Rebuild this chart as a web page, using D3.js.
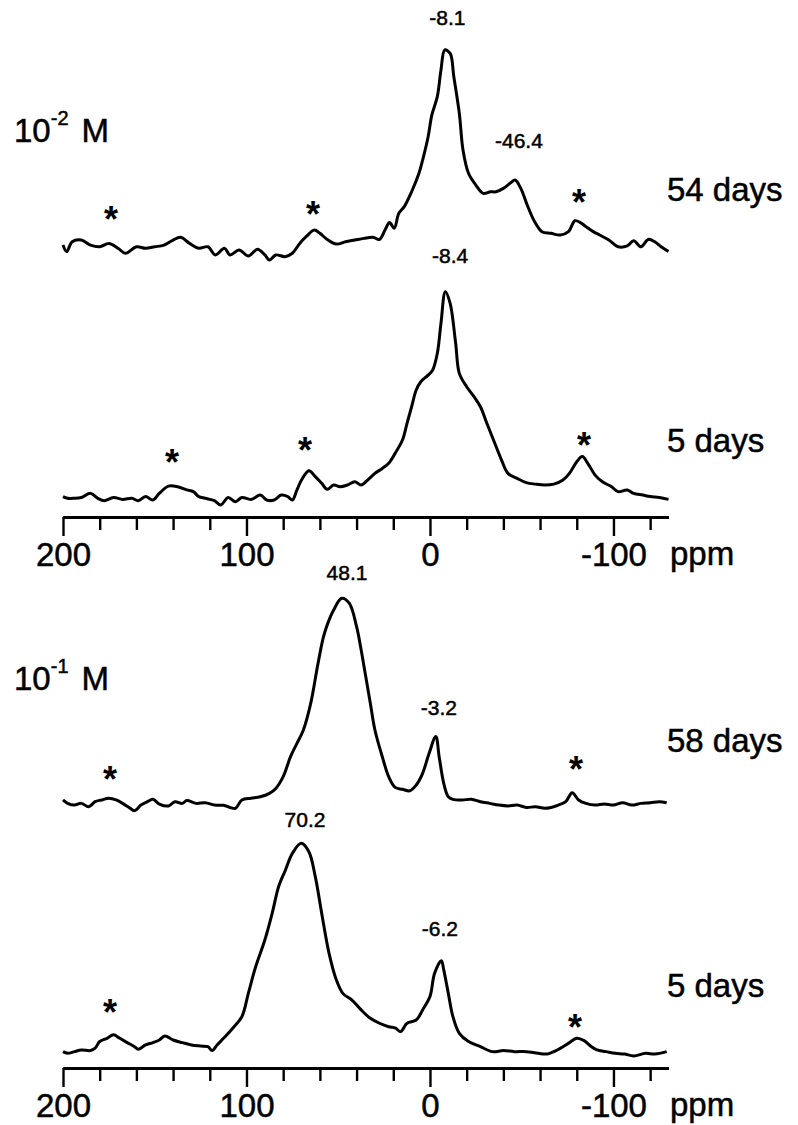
<!DOCTYPE html>
<html>
<head>
<meta charset="utf-8">
<script src="https://cdn.jsdelivr.net/npm/d3@7"></script>
<style>
  body { margin: 0; background: #fff; }
  svg { display: block; }
  text { font-family: "Liberation Sans", Arial, sans-serif; fill: #000; }
</style>
</head>
<body>
<div id="chart"></div>
<script>
/* Spectra: [ppm, relative intensity], main peak = 100 */
var spec54d = [[200,7.1],[198,4.0],[195,8.7],[190,9.5],[185,7.1],[180,6.3],[175,7.9],[170,5.6],[166,3.2],
  [160,6.3],[155,5.6],[150,6.3],[145,7.1],[140,9.5],[136,10.8],[131,7.9],[126,5.6],[121,6.3],[117,2.4],
  [112,5.6],[109,2.4],[104,4.8],[99,1.9],[94,5.1],[90,2.4],[87.5,0],[84,2.4],[79,1.6],[75,3.2],[71,7.9],
  [67.5,11.1],[63,14.3],[60,12.7],[56,9.8],[51,7.6],[46,8.7],[41,9.5],[36,10.3],[31,10.8],[27.5,9.8],
  [24.5,14.3],[22,17.8],[19.5,15.1],[17,22.2],[14,25.4],[10,32.5],[6,41.3],[4,47.6],[1,58.7],[-1,69.0],
  [-4,77.8],[-6,90.5],[-8.1,100],[-11,98.4],[-13,87.3],[-16,69.8],[-18,52.4],[-21,41.3],[-25,35.7],
  [-29,31.7],[-33,32.5],[-36,32.5],[-40,34.1],[-44,36.8],[-46.4,38.1],[-49.5,34.1],[-53,26.2],[-57,18.3],
  [-61,13.5],[-66,12.7],[-71,11.9],[-75.5,13.5],[-79,18.7],[-82,17.8],[-85,15.9],[-89,13.5],[-92.5,11.9],
  [-97.5,9.5],[-102.5,6.3],[-107.5,6.7],[-111,9.2],[-115,6.3],[-119,9.8],[-122.5,8.7],[-126,6.3],[-130,4.0]];

var spec5dLow = [[200,4.7],[197.5,3.9],[194,3.9],[190,4.3],[185,6.2],[181,3.9],[177.5,2.8],[172.5,4.3],
  [167.5,3.4],[162.5,3.9],[159,2.8],[155,4.7],[151,3.1],[147.5,6.2],[142.5,9.6],[137.5,9.3],[132.5,7.8],
  [129,7.0],[126,4.7],[122.5,3.9],[117.5,2.8],[114,0.8],[110,4.3],[106,2.3],[102.5,4.3],[97.5,3.4],
  [92.5,5.4],[89,3.1],[85,3.1],[81,5.4],[77.5,4.7],[75,3.1],[72.5,7.8],[70,12.4],[66,16.7],[62.5,14.0],
  [59,10.9],[56,8.1],[52.5,10.1],[49,9.3],[45,10.1],[41,11.6],[37.5,10.1],[34,12.4],[30,15.5],[26,17.8],
  [22.5,20.2],[19,24.8],[15,31.0],[12.5,38.8],[10,46.5],[7.5,54.3],[5,58.1],[1,61.2],[-1.5,63.6],
  [-4,71.3],[-6,85.3],[-8.4,100],[-11,94.6],[-14,76.0],[-16,62.0],[-20,55.8],[-24,51.2],[-27.5,46.5],
  [-31,38.8],[-35,30.2],[-39,21.7],[-42.5,15.5],[-47.5,13.2],[-52.5,11.2],[-57.5,10.5],[-62.5,10.1],
  [-67.5,10.5],[-72.5,12.4],[-76,15.5],[-80,20.9],[-83,23.3],[-86,20.2],[-90,14.7],[-94,11.6],[-99,9.3],
  [-102.5,7.0],[-107.5,7.8],[-111,6.2],[-116,5.4],[-120,4.7],[-125,4.3],[-130,3.4]];

var spec58d = [[200,5.5],[197.5,3.9],[193.75,3.1],[190,3.9],[186,2.3],[182.5,4.7],[179,5.5],[175,6.3],
  [171,5.5],[167.5,3.9],[164,2.0],[161,0.5],[157.5,3.1],[154,4.7],[151,5.8],[147.5,3.6],[142.5,2.7],
  [139,4.7],[135,3.9],[132.5,5.2],[127.5,3.9],[122.5,4.2],[117.5,3.1],[112.5,3.0],[109,2.0],[106,1.6],
  [102.5,5.5],[97.5,6.3],[92.5,7.0],[87.5,8.6],[84,10.9],[80,16.4],[76,25.8],[72.5,32.0],[69,38.3],
  [65,50.8],[61,69.5],[57.5,83.6],[52.5,94.5],[48.1,100],[44,97.7],[40,86.7],[37.5,75.8],[35,63.3],
  [32.5,50.8],[30,38.3],[26,25.8],[22.5,16.4],[19,11.4],[15,10.5],[11,9.8],[7.5,12.5],[4,18.0],
  [0.5,27.3],[-3.2,35.2],[-5,25.8],[-7.5,13.3],[-10,7.0],[-12.5,5.8],[-17.5,5.5],[-22.5,5.8],[-27.5,4.7],
  [-32.5,3.9],[-37.5,3.1],[-42.5,2.7],[-47.5,3.1],[-52.5,2.0],[-57.5,2.3],[-62.5,1.6],[-66,2.0],[-70,3.1],
  [-74,4.7],[-77.5,8.9],[-81,5.5],[-85,3.9],[-90,3.1],[-95,3.6],[-100,3.1],[-105,4.2],[-110,3.1],
  [-115,3.9],[-120,4.2],[-125,4.7],[-129,4.2]];

var spec5dHigh = [[200,3.1],[197.5,2.3],[193.75,3.1],[190,3.9],[185,3.6],[182.5,4.7],[180,7.8],[176,9.3],
  [172.5,10.9],[169,9.3],[165,7.3],[161,5.4],[159,4.2],[155,6.2],[151,7.3],[147.5,8.5],[144.5,10.4],
  [140,8.5],[135,7.3],[130,6.2],[125,5.7],[121,5.4],[118.75,3.6],[116,6.2],[112.5,9.3],[107.5,14.0],
  [102.5,19.4],[99,30.2],[95,42.6],[90,55.0],[86,67.4],[82.5,79.8],[78.75,87.6],[75,95.3],[70.2,100],
  [66,96.1],[62.5,84.5],[59,67.4],[55,48.8],[51,36.4],[47.5,30.2],[42.5,27.1],[37.5,22.5],[32.5,18.6],
  [27.5,16.3],[22.5,14.7],[18.75,14.0],[16,12.4],[12.5,16.3],[7.5,17.8],[4,22.5],[0,28.7],[-2.5,39.5],
  [-6.2,45.4],[-7.5,41.1],[-10,30.2],[-12.5,19.4],[-16,11.6],[-21,7.8],[-27.5,5.4],[-34,3.1],[-40,3.6],
  [-46,3.1],[-52.5,3.1],[-59,2.3],[-64,2.0],[-67.5,3.1],[-72.5,5.4],[-76,7.3],[-80,9.3],[-84,8.2],
  [-87.5,5.7],[-91,3.9],[-96,3.1],[-101,2.3],[-106,2.0],[-111,1.1],[-117.5,2.3],[-122.5,2.0],[-129,3.1]];

/* Spinning sidebands marked with asterisks: [ppm, intensity] */
var stars54d = [[173.8,22.9],[63.8,25.2],[-81.2,31]];
var stars5dLow = [[140.6,24],[68.1,29.6],[-83.9,32]];
var stars58d = [[174.4,18.6],[-79.6,23.3]];
var stars5dHigh = [[174.4,24.8],[-79,17.8]];

/* Peak labels: [text, ppm, intensity] */
var peaks54d = [["-8.1",-9.5,112],["-46.4",-48.5,53.3]];
var peaks5dLow = [["-8.4",-11,113.3]];
var peaks58d = [["48.1",45.2,108.6],["-3.2",-4.9,45.3]];
var peaks5dHigh = [["70.2",68.1,107.6],["-6.2",-5.4,56.9]];

var dayLabels = ["54 days", "5 days", "58 days", "5 days"];
var concLabels = [["10", "-2", "M"], ["10", "-1", "M"]];

var majorTicks = [200, 100, 0, -100];
var minorTicks = [180, 160, 140, 120, 80, 60, 40, 20, -20, -40, -60, -80, -120];
var ppmDomain = [200, -130];

var width = 798, height = 1125;

var svg = d3.select("#chart").append("svg")
    .attr("width", width)
    .attr("height", height);

svg.append("rect").attr("width", width).attr("height", height).attr("fill", "#fff");

var x = d3.scaleLinear().domain(ppmDomain).range([63, 668.5]);

var panels = [
    {data: spec54d, stars: stars54d, peaks: peaks54d, day: dayLabels[0], range: [260, 50], dayY: 201},
    {data: spec5dLow, stars: stars5dLow, peaks: peaks5dLow, day: dayLabels[1], range: [506.7, 291.7], dayY: 452},
    {data: spec58d, stars: stars58d, peaks: peaks58d, day: dayLabels[2], range: [811.7, 598.3], dayY: 752},
    {data: spec5dHigh, stars: stars5dHigh, peaks: peaks5dHigh, day: dayLabels[3], range: [1058.3, 843.3], dayY: 997}
];

panels.forEach(function(p) {
    var y = d3.scaleLinear().domain([0, 100]).range(p.range);

    var line = d3.line()
        .x(function(d) { return x(d[0]); })
        .y(function(d) { return y(d[1]); })
        .curve(d3.curveCatmullRom.alpha(0.5));

    svg.append("path")
        .datum(p.data)
        .attr("d", line)
        .attr("fill", "none")
        .attr("stroke", "#000")
        .attr("stroke-width", 3)
        .attr("stroke-linejoin", "round");

    // asterisks, centred on the point
    svg.selectAll(null)
        .data(p.stars)
        .enter().append("text")
        .attr("x", function(d) { return x(d[0]); })
        .attr("y", function(d) { return y(d[1]) + 20; })
        .attr("text-anchor", "middle")
        .attr("font-size", 36)
        .attr("font-weight", "bold")
        .text("*");

    svg.selectAll(null)
        .data(p.peaks)
        .enter().append("text")
        .attr("x", function(d) { return x(d[1]); })
        .attr("y", function(d) { return y(d[2]); })
        .attr("text-anchor", "middle")
        .attr("font-size", 21)
        .attr("stroke", "#000")
        .attr("stroke-width", 0.5)
        .text(function(d) { return d[0]; });

    svg.append("text")
        .attr("x", 667)
        .attr("y", p.dayY)
        .attr("font-size", 33)
        .attr("stroke", "#000")
        .attr("stroke-width", 0.5)
        .text(p.day);
});

/* concentration labels with superscript exponent */
[[142, concLabels[0]], [690, concLabels[1]]].forEach(function(c) {
    var t = svg.append("text")
        .attr("x", 14)
        .attr("y", c[0])
        .attr("font-size", 33)
        .attr("stroke", "#000")
        .attr("stroke-width", 0.5);
    t.append("tspan").text(c[1][0]);
    t.append("tspan").attr("dy", -17).attr("font-size", 20).text(c[1][1]);
    t.append("tspan").attr("dy", 17).attr("dx", 13).text(c[1][2]);
});

/* ppm axes */
function drawAxis(yPos) {
    var g = svg.append("g").attr("transform", "translate(0," + yPos + ")");

    var major = d3.axisBottom(x)
        .tickValues(majorTicks)
        .tickSize(19)
        .tickSizeOuter(0)
        .tickPadding(7)
        .tickFormat(function(d) { return String(d); });

    var minor = d3.axisBottom(x)
        .tickValues(minorTicks)
        .tickSize(13)
        .tickSizeOuter(0)
        .tickFormat("");

    g.append("g").call(minor);
    var gm = g.append("g").call(major);

    g.selectAll("path.domain").attr("stroke", "#000").attr("stroke-width", 2.8);
    g.selectAll(".tick line").attr("stroke", "#000").attr("stroke-width", 2.4);
    gm.selectAll(".tick text")
        .attr("font-family", "Liberation Sans, Arial, sans-serif")
        .attr("font-size", 33)
        .attr("fill", "#000")
        .attr("stroke", "#000")
        .attr("stroke-width", 0.5);

    g.append("text")
        .attr("x", 670)
        .attr("y", 48)
        .attr("font-size", 33)
        .attr("stroke", "#000")
        .attr("stroke-width", 0.5)
        .text("ppm");
}

drawAxis(517);
drawAxis(1068);
</script>
</body>
</html>
